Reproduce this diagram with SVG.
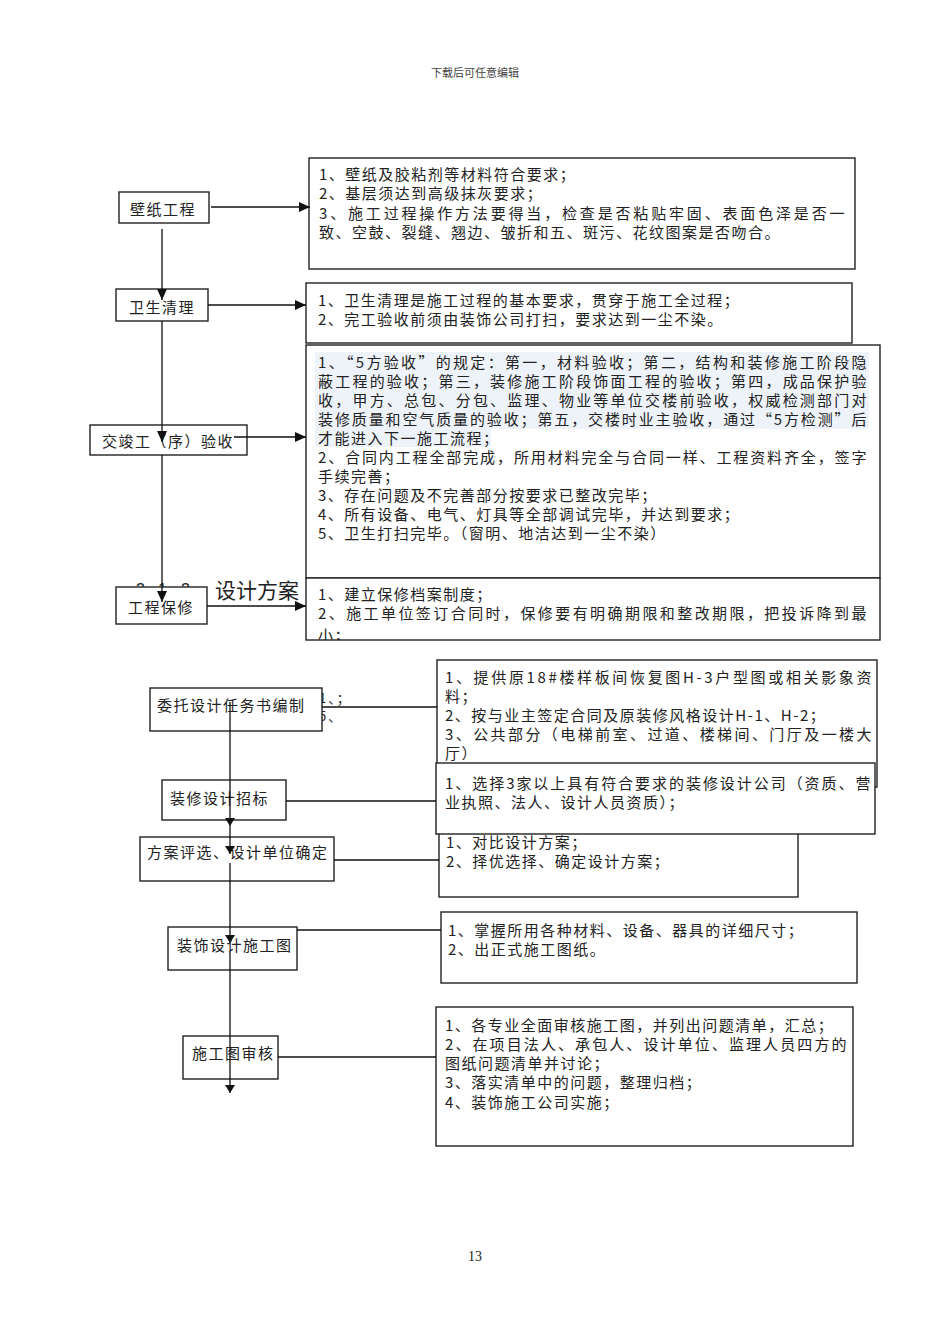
<svg xmlns="http://www.w3.org/2000/svg" width="950" height="1344" viewBox="0 0 950 1344">
<style>
.bx{fill:#fff;stroke:#222;stroke-width:1.4}
.nt{font-family:"Noto Sans CJK SC","Noto Sans",sans-serif;font-size:15px;letter-spacing:1.5px;fill:#222}
.tx{font-family:"Noto Sans CJK SC","Noto Sans",sans-serif;font-size:15px;letter-spacing:1.5px;fill:#222}
.fr{font-family:"Noto Sans CJK SC","Noto Sans",sans-serif;font-size:13px;letter-spacing:2px;fill:#222}
.ln{stroke:#111;stroke-width:1.3;fill:none}
</style>
<defs>
<marker id="ah" markerUnits="userSpaceOnUse" markerWidth="11" markerHeight="10" refX="11" refY="5" orient="auto"><path d="M0,0 L11,5 L0,10 z" fill="#111"/></marker>
<marker id="ahs" markerUnits="userSpaceOnUse" markerWidth="8" markerHeight="10" refX="8" refY="5" orient="auto"><path d="M0,0 L8,5 L0,10 z" fill="#111"/></marker>
<clipPath id="c4"><rect x="306" y="578" width="574" height="62"/></clipPath>
</defs>
<rect width="950" height="1344" fill="#fff"/>
<text x="475" y="77" text-anchor="middle" font-family="Noto Sans CJK SC,sans-serif" font-size="11" fill="#444">下载后可任意编辑</text>
<text x="475" y="1261" text-anchor="middle" font-family="Liberation Serif,serif" font-size="14" fill="#222">13</text>

<!-- hidden heading fragments -->
<g font-family="Liberation Sans,Noto Sans CJK SC,sans-serif" font-size="16" fill="#222">
<text x="136" y="595">2</text><text x="158" y="595">1</text><text x="181" y="595">2</text>
</g>
<text x="215" y="598" font-family="Noto Sans CJK SC,sans-serif" font-size="21" fill="#222">设计方案</text>
<text x="319" y="703" class="fr">1、；</text>
<text x="319" y="721" class="fr">5、</text>

<!-- right boxes top -->
<g id="d1"><rect class="bx" x="309" y="158" width="546" height="111"/>
<text class="tx" x="319" y="180">1、壁纸及胶粘剂等材料符合要求；</text>
<text class="tx" x="319" y="199.3">2、基层须达到高级抹灰要求；</text>
<text class="tx" x="319" y="218.6" textLength="527" lengthAdjust="spacing">3、施工过程操作方法要得当，检查是否粘贴牢固、表面色泽是否一</text>
<text class="tx" x="319" y="237.9">致、空鼓、裂缝、翘边、皱折和五、斑污、花纹图案是否吻合。</text></g>
<g id="d2"><rect class="bx" x="306" y="283" width="546" height="60"/>
<text class="tx" x="318" y="305.5">1、卫生清理是施工过程的基本要求，贯穿于施工全过程；</text>
<text class="tx" x="318" y="325">2、完工验收前须由装饰公司打扫，要求达到一尘不染。</text></g>
<g id="d3"><rect class="bx" x="306" y="345" width="574" height="233"/>
<rect x="315" y="352" width="554" height="77" fill="#eef3fa"/>
<rect x="315" y="429" width="176" height="18" fill="#eef3fa"/>
<text class="tx" x="318" y="367.5" textLength="550" lengthAdjust="spacing">1、“5方验收”的规定：第一，材料验收；第二，结构和装修施工阶段隐</text>
<text class="tx" x="318" y="386.6" textLength="550" lengthAdjust="spacing">蔽工程的验收；第三，装修施工阶段饰面工程的验收；第四，成品保护验</text>
<text class="tx" x="318" y="405.7" textLength="550" lengthAdjust="spacing">收，甲方、总包、分包、监理、物业等单位交楼前验收，权威检测部门对</text>
<text class="tx" x="318" y="424.8" textLength="550" lengthAdjust="spacing">装修质量和空气质量的验收；第五，交楼时业主验收，通过“5方检测”后</text>
<text class="tx" x="318" y="443.9">才能进入下一施工流程；</text>
<text class="tx" x="318" y="463" textLength="550" lengthAdjust="spacing">2、合同内工程全部完成，所用材料完全与合同一样、工程资料齐全，签字</text>
<text class="tx" x="318" y="482.1">手续完善；</text>
<text class="tx" x="318" y="501.2">3、存在问题及不完善部分按要求已整改完毕；</text>
<text class="tx" x="318" y="520.3">4、所有设备、电气、灯具等全部调试完毕，并达到要求；</text>
<text class="tx" x="318" y="539.4">5、卫生打扫完毕。（窗明、地洁达到一尘不染）</text></g>
<g id="d4"><rect class="bx" x="306" y="578" width="574" height="62"/>
<g clip-path="url(#c4)">
<text class="tx" x="318" y="599.5">1、建立保修档案制度；</text>
<text class="tx" x="318" y="619" textLength="550" lengthAdjust="spacing">2、施工单位签订合同时，保修要有明确期限和整改期限，把投诉降到最</text>
<text class="tx" x="318" y="641">小；</text></g></g>

<!-- top nodes -->
<g id="n1"><rect class="bx" x="119" y="192" width="90" height="31"/><text class="nt" x="130" y="214.5">壁纸工程</text></g>
<g id="n2"><rect class="bx" x="116" y="289" width="92" height="32"/><text class="nt" x="129" y="312.5">卫生清理</text></g>
<g id="n3"><rect class="bx" x="90" y="425" width="157" height="30"/><text class="nt" x="102" y="446.5">交竣工（序）验收</text></g>
<g id="n4"><rect class="bx" x="116" y="587" width="91" height="37"/><text class="nt" x="128" y="612.5">工程保修</text></g>

<!-- lower right boxes -->
<g id="d5"><rect class="bx" x="437" y="660" width="440" height="127"/>
<text class="tx" x="445" y="682.5" textLength="428" lengthAdjust="spacing">1、提供原18#楼样板间恢复图H-3户型图或相关影象资</text>
<text class="tx" x="445" y="701.7">料；</text>
<text class="tx" x="445" y="720.9">2、按与业主签定合同及原装修风格设计H-1、H-2；</text>
<text class="tx" x="445" y="740.1" textLength="428" lengthAdjust="spacing">3、公共部分（电梯前室、过道、楼梯间、门厅及一楼大</text>
<text class="tx" x="445" y="759.3">厅）</text></g>
<g id="d7"><rect class="bx" x="439" y="826" width="359" height="71"/>
<text class="tx" x="446" y="847.5">1、对比设计方案；</text>
<text class="tx" x="446" y="867">2、择优选择、确定设计方案；</text></g>
<g id="d6"><rect class="bx" x="436" y="763" width="439" height="71"/>
<text class="tx" x="445" y="788.5" textLength="427" lengthAdjust="spacing">1、选择3家以上具有符合要求的装修设计公司（资质、营</text>
<text class="tx" x="445" y="807.5">业执照、法人、设计人员资质）；</text></g>
<g id="d8"><rect class="bx" x="441" y="912" width="416" height="71"/>
<text class="tx" x="448" y="935.5">1、掌握所用各种材料、设备、器具的详细尺寸；</text>
<text class="tx" x="448" y="955">2、出正式施工图纸。</text></g>
<g id="d9"><rect class="bx" x="436" y="1007" width="417" height="139"/>
<text class="tx" x="445" y="1030.5">1、各专业全面审核施工图，并列出问题清单，汇总；</text>
<text class="tx" x="445" y="1049.8" textLength="403" lengthAdjust="spacing">2、在项目法人、承包人、设计单位、监理人员四方的</text>
<text class="tx" x="445" y="1069.1">图纸问题清单并讨论；</text>
<text class="tx" x="445" y="1088.4">3、落实清单中的问题，整理归档；</text>
<text class="tx" x="445" y="1107.7">4、装饰施工公司实施；</text></g>

<!-- lower nodes -->
<g id="m1"><rect class="bx" x="150" y="688" width="172" height="43"/><text class="nt" x="157" y="710.5">委托设计任务书编制</text></g>
<g id="m2"><rect class="bx" x="162" y="780" width="124" height="40"/><text class="nt" x="170" y="803.5">装修设计招标</text></g>
<g id="m3"><rect class="bx" x="140" y="837" width="194" height="44"/><text class="nt" x="147" y="857.5">方案评选、设计单位确定</text></g>
<g id="m4"><rect class="bx" x="168" y="927" width="129" height="43"/><text class="nt" x="177" y="950.5">装饰设计施工图</text></g>
<g id="m5"><rect class="bx" x="183" y="1036" width="95" height="43"/><text class="nt" x="192" y="1058.5">施工图审核</text></g>

<!-- connectors -->
<g id="connectors">
<line class="ln" x1="211" y1="207" x2="310" y2="207" marker-end="url(#ah)"/>
<line class="ln" x1="162" y1="229" x2="162" y2="300" marker-end="url(#ah)"/>
<line class="ln" x1="208" y1="305" x2="306" y2="305" marker-end="url(#ah)"/>
<line class="ln" x1="162" y1="321" x2="162" y2="442" marker-end="url(#ah)"/>
<line class="ln" x1="234" y1="437" x2="306" y2="437" marker-end="url(#ah)"/>
<line class="ln" x1="162" y1="455" x2="162" y2="602" marker-end="url(#ah)"/>
<line class="ln" x1="207" y1="606" x2="306" y2="606" marker-end="url(#ah)"/>
<line class="ln" x1="322" y1="707" x2="437" y2="707"/>
<line class="ln" x1="286" y1="801" x2="436" y2="801"/>
<line class="ln" x1="334" y1="860" x2="439" y2="860"/>
<line class="ln" x1="297" y1="930" x2="441" y2="930"/>
<line class="ln" x1="278" y1="1057" x2="436" y2="1057"/>
<line class="ln" x1="230" y1="702" x2="230" y2="826" marker-end="url(#ahs)"/>
<line class="ln" x1="230" y1="826" x2="230" y2="854" marker-end="url(#ahs)"/>
<line class="ln" x1="230" y1="863" x2="230" y2="943" marker-end="url(#ahs)"/>
<line class="ln" x1="230" y1="952" x2="230" y2="1093" marker-end="url(#ahs)"/>
</g>
</svg>
